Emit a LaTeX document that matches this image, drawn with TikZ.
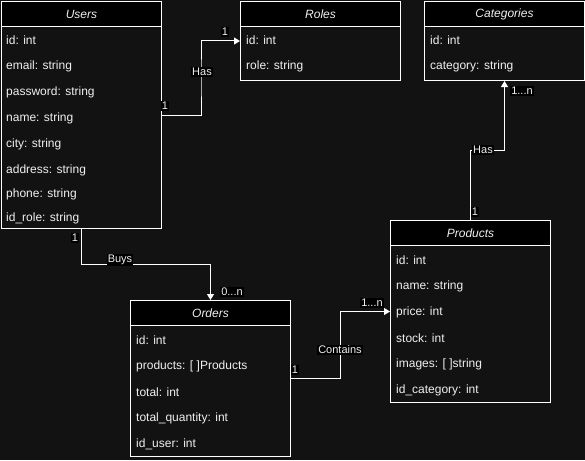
\documentclass[tikz,border=0pt]{standalone}
\usepackage{fontspec}
\setmainfont{Liberation Sans}
\usetikzlibrary{arrows.meta,calc}
\definecolor{bgc}{RGB}{18,18,18}
\definecolor{txt}{RGB}{240,240,240}
\tikzset{
  classbody/.style={draw=white, line width=1pt, fill=bgc, anchor=north west, minimum width=160pt, inner sep=0pt},
  classhead/.style={draw=white, line width=1pt, fill=black, anchor=north west, minimum width=160pt, minimum height=25pt, inner sep=0pt, text=txt, font=\fontsize{12}{14}\selectfont\itshape},
  field/.style={anchor=west, inner sep=0pt, text=txt, font=\fontsize{12}{14}\selectfont},
  conn/.style={draw=white, line width=1pt},
  arr/.style={conn, -{Triangle[width=7pt,length=6pt]}},
  lbl/.style={fill=black, inner sep=1pt, text=txt, font=\fontsize{11}{13}\selectfont},
}
\begin{document}
\begin{tikzpicture}[x=1pt,y=-1pt]
\fill[bgc] (0,0) rectangle (585,460);
\useasboundingbox (0,0) rectangle (585,460);

% Users
\node[classbody, minimum height=227pt] (users) at (1,1) {};
\node[classhead] (usersh) at (1,1) {Users};
\node[field] (u1) at (6,40) {id: int};
\node[field] (u2) at (6,66) {email: string};
\node[field] (u3) at (6,92) {password: string};
\node[field] (u4) at (6,118) {name: string};
\node[field] (u5) at (6,144) {city: string};
\node[field] (u6) at (6,170) {address: string};
\node[field] (u7) at (6,194) {phone: string};
\node[field] (u8) at (6,218) {id\_role: string};

% Roles
\node[classbody, minimum height=79pt] (roles) at (240,1) {};
\node[classhead] (rolesh) at (240,1) {Roles};
\node[field] (r1) at (246,40) {id: int};
\node[field] (r2) at (246,66) {role: string};

% Categories
\node[classbody, minimum height=79pt] (cats) at (424,1) {};
\node[classhead] (catsh) at (424,1) {Categories};
\node[field] (c1) at (430,40) {id: int};
\node[field] (c2) at (430,66) {category: string};

% Products
\node[classbody, minimum height=182pt] (prods) at (390,220) {};
\node[classhead] (prodsh) at (390,220) {Products};
\node[field] (p1) at (396,260) {id: int};
\node[field] (p2) at (396,286) {name: string};
\node[field] (p3) at (396,312) {price: int};
\node[field] (p4) at (396,338) {stock: int};
\node[field] (p5) at (396,364) {images: [ ]string};
\node[field] (p6) at (396,390) {id\_category: int};

% Orders
\node[classbody, minimum height=156pt] (orders) at (130,300) {};
\node[classhead] (ordersh) at (130,300) {Orders};
\node[field] (o1) at (136,340) {id: int};
\node[field] (o2) at (136,366) {products: [ ]Products};
\node[field] (o3) at (136,392) {total: int};
\node[field] (o4) at (136,418) {total\_quantity: int};
\node[field] (o5) at (136,444) {id\_user: int};

% connectors
\coordinate (m1) at ($(users.east)!0.5!(roles.west)$);
\draw[arr] (users.east) -| (m1) |- (roles.west);
\coordinate (m2) at ($(users.south)!0.5!(orders.north)$);
\draw[arr] (users.south) |- (m2) -| (orders.north);
\coordinate (m3) at ($(orders.east)!0.5!(prods.west)$);
\draw[arr] (orders.east) -| (m3) |- (prods.west);
\coordinate (m4) at ($(prods.north)!0.5!(cats.south)$);
\draw[arr] (prods.north) |- (m4) -| (cats.south);

% labels
\node[lbl] (l1) at (202,72) {Has};
\node[lbl] (l1a) at (165,106) {1};
\node[lbl] (l1b) at (225,32) {1};
\node[lbl] (l2) at (120,260) {Buys};
\node[lbl] (l2a) at (75,238) {1};
\node[lbl] (l2b) at (232,292) {0...n};
\node[lbl] (l3) at (340,350) {Contains};
\node[lbl] (l3a) at (295,370) {1};
\node[lbl] (l3b) at (372,303) {1...n};
\node[lbl] (l4) at (483,150) {Has};
\node[lbl] (l4a) at (475,212) {1};
\node[lbl] (l4b) at (522,91) {1...n};
\end{tikzpicture}
\end{document}
